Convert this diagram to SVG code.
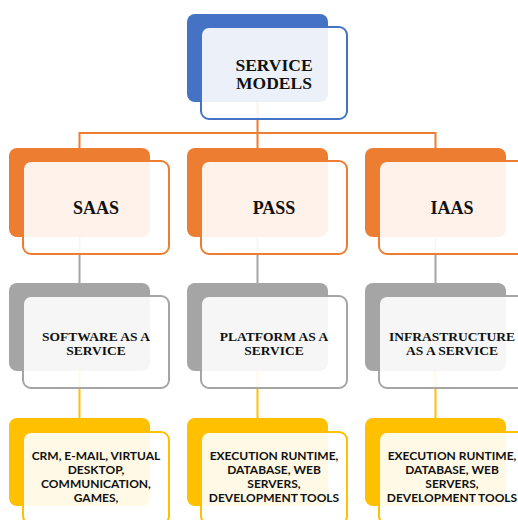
<svg xmlns="http://www.w3.org/2000/svg" width="518" height="520" viewBox="0 0 518 520">
  <style>
    .back { stroke: none; }
    .front { fill: #ffffff; fill-opacity: 0.9; stroke-width: 2; }
    .blue .back { fill: #4472C4; } .blue .front { stroke: #4472C4; }
    .orange .back { fill: #ED7D31; } .orange .front { stroke: #ED7D31; }
    .gray .back { fill: #A5A5A5; } .gray .front { stroke: #A5A5A5; }
    .yellow .back { fill: #FFC000; } .yellow .front { stroke: #FFC000; }
    .serif { font-family: "Liberation Serif", "Times New Roman", serif; font-weight: bold; fill: #111; text-anchor: middle; }
    .big { font-size: 18px; }
    .top { font-size: 17.5px; }
    .mid { font-size: 13.5px; }
    .sans { font-family: Lato, "Liberation Sans", sans-serif; font-weight: bold; font-size: 12px; fill: #111; text-anchor: middle; }
    .conn { fill: none; stroke-width: 2; }
  </style>

  <!-- connectors -->
  <g id="connectors">
    <path class="conn" stroke="#ED7D31" d="M257.5 102 V133 M79.5 148 V133 H435.5 V148 M257.5 133 V148"/>
    <path class="conn" stroke="#A5A5A5" d="M79.5 237 V283 M257.5 237 V283 M435.5 237 V283"/>
    <path class="conn" stroke="#FFC000" d="M79.5 371 V418 M257.5 371 V418 M435.5 371 V418"/>
  </g>

  <!-- root -->
  <g id="service-models" class="blue">
    <rect class="back" x="187" y="14" width="141" height="88" rx="8"/>
    <rect class="front" x="201" y="27" width="146" height="92" rx="8"/>
    <text class="serif top" x="274" y="70.5"><tspan x="274">SERVICE</tspan><tspan x="274" dy="18.5">MODELS</tspan></text>
  </g>

  <!-- level 1 -->
  <g id="saas" class="orange">
    <rect class="back" x="9" y="148" width="141" height="89" rx="8"/>
    <rect class="front" x="23" y="161" width="146" height="93" rx="8"/>
    <text class="serif big" x="96" y="214">SAAS</text>
  </g>
  <g id="pass" class="orange">
    <rect class="back" x="187" y="148" width="141" height="89" rx="8"/>
    <rect class="front" x="201" y="161" width="146" height="93" rx="8"/>
    <text class="serif big" x="274" y="214">PASS</text>
  </g>
  <g id="iaas" class="orange">
    <rect class="back" x="365" y="148" width="141" height="89" rx="8"/>
    <rect class="front" x="379" y="161" width="146" height="93" rx="8"/>
    <text class="serif big" x="452" y="214">IAAS</text>
  </g>

  <!-- level 2 -->
  <g id="software" class="gray">
    <rect class="back" x="9" y="283" width="141" height="88" rx="8"/>
    <rect class="front" x="23" y="296" width="146" height="92" rx="8"/>
    <text class="serif mid" x="96" y="341"><tspan x="96">SOFTWARE AS A</tspan><tspan x="96" dy="13.5">SERVICE</tspan></text>
  </g>
  <g id="platform" class="gray">
    <rect class="back" x="187" y="283" width="141" height="88" rx="8"/>
    <rect class="front" x="201" y="296" width="146" height="92" rx="8"/>
    <text class="serif mid" x="274" y="341"><tspan x="274">PLATFORM AS A</tspan><tspan x="274" dy="13.5">SERVICE</tspan></text>
  </g>
  <g id="infrastructure" class="gray">
    <rect class="back" x="365" y="283" width="141" height="88" rx="8"/>
    <rect class="front" x="379" y="296" width="146" height="92" rx="8"/>
    <text class="serif mid" x="452" y="341"><tspan x="452">INFRASTRUCTURE</tspan><tspan x="452" dy="13.5">AS A SERVICE</tspan></text>
  </g>

  <!-- level 3 -->
  <g id="saas-examples" class="yellow">
    <rect class="back" x="9" y="418" width="141" height="88" rx="8"/>
    <rect class="front" x="23" y="432" width="146" height="92" rx="8"/>
    <text class="sans" x="96" y="460"><tspan x="96">CRM, E-MAIL, VIRTUAL</tspan><tspan x="96" dy="14">DESKTOP,</tspan><tspan x="96" dy="14">COMMUNICATION,</tspan><tspan x="96" dy="14">GAMES,</tspan></text>
  </g>
  <g id="paas-examples" class="yellow">
    <rect class="back" x="187" y="418" width="141" height="88" rx="8"/>
    <rect class="front" x="201" y="432" width="146" height="92" rx="8"/>
    <text class="sans" x="274" y="460"><tspan x="274">EXECUTION RUNTIME,</tspan><tspan x="274" dy="14">DATABASE, WEB</tspan><tspan x="274" dy="14">SERVERS,</tspan><tspan x="274" dy="14">DEVELOPMENT TOOLS</tspan></text>
  </g>
  <g id="iaas-examples" class="yellow">
    <rect class="back" x="365" y="418" width="141" height="88" rx="8"/>
    <rect class="front" x="379" y="432" width="146" height="92" rx="8"/>
    <text class="sans" x="452" y="460"><tspan x="452">EXECUTION RUNTIME,</tspan><tspan x="452" dy="14">DATABASE, WEB</tspan><tspan x="452" dy="14">SERVERS,</tspan><tspan x="452" dy="14">DEVELOPMENT TOOLS</tspan></text>
  </g>
</svg>
